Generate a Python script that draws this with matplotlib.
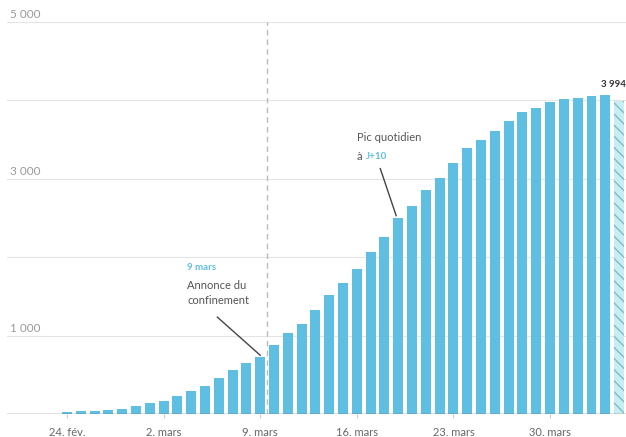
import matplotlib
matplotlib.use("Agg")
import matplotlib.pyplot as plt
import numpy as np

plt.rcParams['font.family'] = ['Lato', 'DejaVu Sans']
plt.rcParams['hatch.linewidth'] = 1.0

# patients en réanimation, du 24 février au 4 avril
valeurs = [26, 35, 36, 56, 64, 105, 140, 166, 229, 295, 351, 462, 567, 650,
           733, 877, 1028, 1153, 1328, 1518, 1672, 1851, 2060, 2257, 2498,
           2655, 2857, 3009, 3204, 3396, 3489, 3612, 3732, 3856, 3906, 3981,
           4023, 4035, 4053, 4068, 3994]
tick_pos = [0, 7, 14, 21, 28, 35]
tick_labels = ["24. fév.", "2. mars", "9. mars", "16. mars", "23. mars", "30. mars"]
grid_vals = [1000, 2000, 3000, 4000, 5000]
ylabels = {1000: "1 000", 3000: "3 000", 5000: "5 000"}

bleu = "#5fbfe3"
gris = "#555555"

fig = plt.figure(figsize=(6.26, 4.37), dpi=100)
ax = fig.add_axes([0.011, 0.0526, 0.989, 0.8971])

x = np.arange(len(valeurs))
ax.bar(x[:-1], valeurs[:-1], width=0.72, color=bleu, zorder=3)
ax.bar(x[-1], valeurs[-1], width=0.72, color="#c8edf3", edgecolor="#7dbcc6",
       hatch="\\\\\\", linewidth=0, zorder=3)

ax.set_xlim(-4.35, 40.5)
ax.set_ylim(0, 5000)

for g in grid_vals:
    ax.axhline(g, color="#e4e4e4", lw=0.8, zorder=1)
    if g in ylabels:
        ax.text(-4.1, g + 95, ylabels[g], fontsize=8.5, color="#9a9a9a",
                ha="left", va="center")
ax.axhline(0, color="#666666", lw=1.0, zorder=4)

# ligne pointillée : annonce du confinement
ax.axvline(14.5, ymax=1.0, color="#bbbbbb", lw=1.0, ls=(0, (4, 3)), zorder=2)

ax.set_xticks(tick_pos)
ax.set_xticklabels(tick_labels, fontsize=8, color="#666666")
ax.tick_params(axis="x", length=3, color="#cccccc", pad=6)
ax.set_yticks([])
for s in ax.spines.values():
    s.set_visible(False)

# annotations
ax.text(8.7, 1865, "9 mars", fontsize=7, color=bleu, fontweight="bold",
        ha="left", va="center")
ax.text(8.7, 1635, "Annonce du", fontsize=8, color=gris, ha="left", va="center")
ax.text(8.7, 1443, "confinement", fontsize=8, color=gris, ha="left", va="center")
ax.plot([10.9, 14.0], [1235, 750], color="#444444", lw=1.0, zorder=5)

ax.text(21.0, 3530, "Pic quotidien", fontsize=8, color=gris,
        ha="left", va="center")
ax.text(21.0, 3290, "à", fontsize=8, color=gris, ha="left", va="center")
ax.text(21.68, 3290, "J+10", fontsize=7, color=bleu, fontweight="bold",
        ha="left", va="center")
ax.plot([22.7, 23.85], [3130, 2530], color="#444444", lw=1.0, zorder=5)

ax.text(40.5, 4150, "3 994", fontsize=7, color="#333333", fontweight="bold",
        ha="right", va="bottom", clip_on=False)

fig.savefig("out.png", dpi=100)
